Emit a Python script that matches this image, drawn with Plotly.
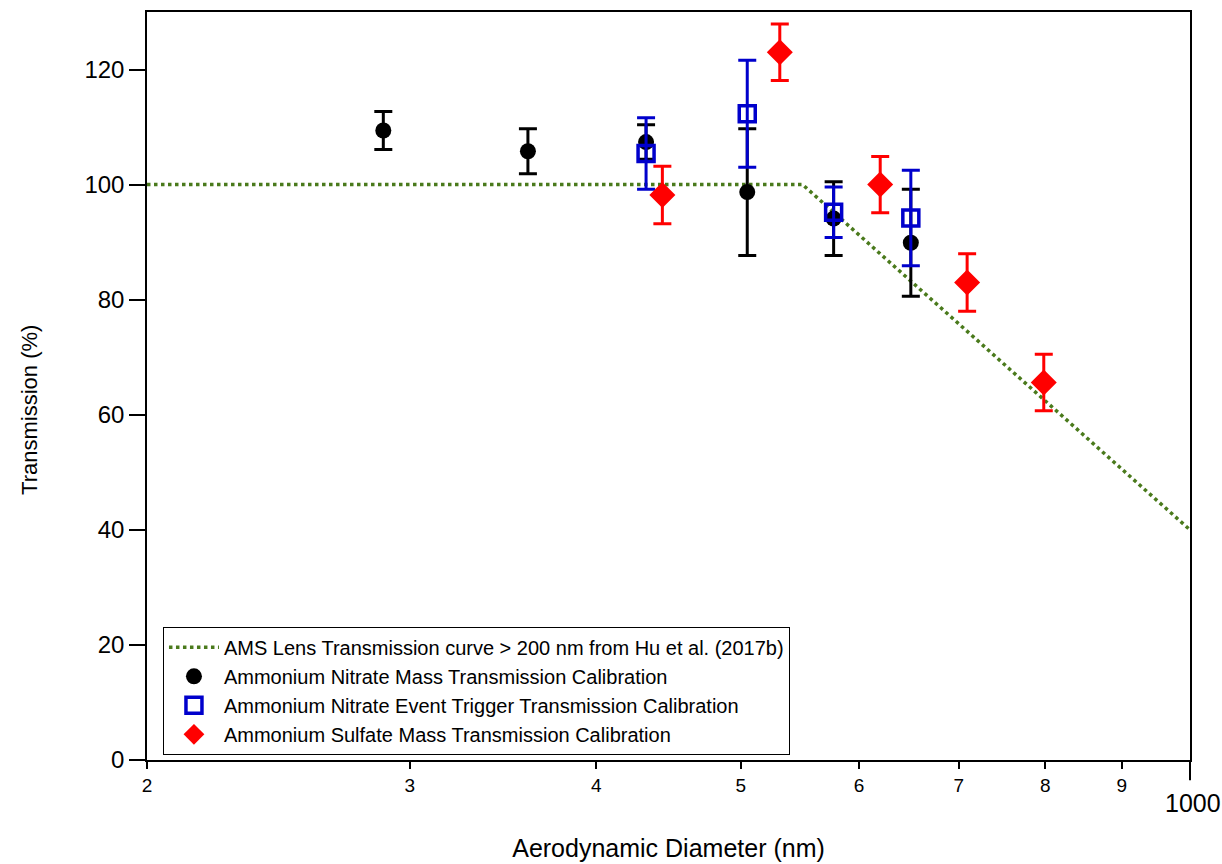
import plotly.graph_objects as go

# AMS lens transmission curve (Hu et al. 2017b)
curve_x = [200, 550, 1000]
curve_y = [100, 100, 40]

# Ammonium Nitrate Mass Transmission Calibration
an_mass_x = [288, 360, 432, 505, 577, 650]
an_mass_y = [109.4, 105.8, 107.4, 98.7, 94.1, 89.9]
an_mass_err = [3.3, 3.9, 3.0, 11.0, 6.4, 9.3]

# Ammonium Nitrate Event Trigger Transmission Calibration
an_event_x = [432, 505, 577, 650]
an_event_y = [105.4, 112.3, 95.2, 94.2]
an_event_err = [6.2, 9.3, 4.4, 8.3]

# Ammonium Sulfate Mass Transmission Calibration
as_mass_x = [443, 531, 620, 709, 798]
as_mass_y = [98.2, 123.0, 100.0, 83.0, 65.6]
as_mass_err = [5.0, 4.9, 4.9, 5.0, 4.9]

x_tickvals = [200, 300, 400, 500, 600, 700, 800, 900]
x_ticktext = ["2", "3", "4", "5", "6", "7", "8", "9"]
y_tickvals = [0, 20, 40, 60, 80, 100, 120]

NARROW = "Liberation Sans Narrow, Arial Narrow, Liberation Sans"
SANS = "Liberation Sans, Arial"

fig = go.Figure()

fig.add_trace(go.Scatter(
    x=curve_x, y=curve_y, mode="lines",
    name="AMS Lens Transmission curve > 200 nm from Hu et al. (2017b)",
    line=dict(color="#4a7a1c", width=3.5, dash="dot"),
))

fig.add_trace(go.Scatter(
    x=an_mass_x, y=an_mass_y, mode="markers",
    name="Ammonium Nitrate Mass Transmission Calibration",
    marker=dict(symbol="circle", size=16, color="black"),
    error_y=dict(type="data", array=an_mass_err, color="black", thickness=3, width=9),
))

fig.add_trace(go.Scatter(
    x=an_event_x, y=an_event_y, mode="markers",
    name="Ammonium Nitrate Event Trigger Transmission Calibration",
    marker=dict(symbol="square-open", size=16, color="#0000cc", line=dict(width=3.5, color="#0000cc")),
    error_y=dict(type="data", array=an_event_err, color="#0000cc", thickness=3, width=9),
))

fig.add_trace(go.Scatter(
    x=as_mass_x, y=as_mass_y, mode="markers",
    name="Ammonium Sulfate Mass Transmission Calibration",
    marker=dict(symbol="diamond", size=20, color="#ff0000"),
    error_y=dict(type="data", array=as_mass_err, color="#ff0000", thickness=3, width=9),
))

# longer major tick at 1000 and its label
fig.add_shape(type="line", xref="paper", yref="paper", x0=1, x1=1, y0=0, y1=-0.027,
              line=dict(color="black", width=2))
fig.add_annotation(x=1, y=-0.036, xref="paper", yref="paper", text="1000",
                   showarrow=False, xanchor="center", yanchor="top", xshift=3,
                   font=dict(family=NARROW, size=25, color="black"))

# y-axis title (placed as in the reference, slightly below centre)
fig.add_annotation(x=(30 - 147) / 1043, y=0.468, xref="paper", yref="paper",
                   text="Transmission (%)", showarrow=False, textangle=-90,
                   xanchor="center", yanchor="middle",
                   font=dict(family=SANS, size=22, color="black"))

fig.update_layout(
    width=1222, height=864,
    margin=dict(l=147, r=32, t=12, b=104),
    paper_bgcolor="white", plot_bgcolor="white",
    font=dict(family=SANS, color="black"),
    showlegend=True,
    legend=dict(
        x=0.0153, y=0.178, xanchor="left", yanchor="top",
        bgcolor="white", bordercolor="black", borderwidth=1,
        font=dict(family=SANS, size=20, color="black"),
        itemsizing="trace", itemwidth=50, tracegroupgap=0,
    ),
    xaxis=dict(
        type="log", range=[2.30103, 3.0], automargin=False,
        tickvals=x_tickvals, ticktext=x_ticktext,
        ticks="outside", ticklen=7, tickwidth=1.5, tickcolor="black",
        tickfont=dict(family=NARROW, size=19, color="black"),
        showline=True, linecolor="black", linewidth=1.5, mirror=True,
        showgrid=False, zeroline=False,
        title=dict(text="Aerodynamic Diameter (nm)", standoff=45,
                   font=dict(family=SANS, size=25, color="black")),
    ),
    yaxis=dict(
        range=[0, 130], tickvals=y_tickvals, automargin=False,
        ticks="outside", ticklen=16, tickwidth=1.5, tickcolor="black",
        tickfont=dict(family=SANS, size=24, color="black"),
        showline=True, linecolor="black", linewidth=1.5, mirror=True,
        showgrid=False, zeroline=False,
    ),
)

fig.write_html("out.html")
